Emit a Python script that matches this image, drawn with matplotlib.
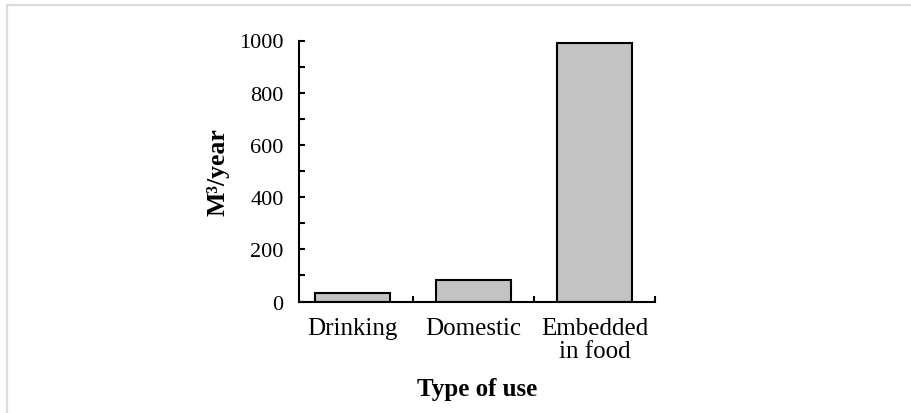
import matplotlib
matplotlib.use("Agg")
import matplotlib.pyplot as plt
from matplotlib.lines import Line2D

# data
categories = ["Drinking", "Domestic", "Embedded\nin food"]
values = [33, 81, 990]
y_major = [0, 200, 400, 600, 800, 1000]
y_minor = [100, 300, 500, 700, 900]

plt.rcParams['font.family'] = ['Liberation Serif', 'DejaVu Serif']

W, H = 912, 414
fig = plt.figure(figsize=(W / 100, H / 100), dpi=100)

# light grey frame of the figure (top and left edges only)
fig.add_artist(Line2D([7 / W, 7 / W, 1], [0, 1 - 6 / H, 1 - 6 / H],
                      transform=fig.transFigure, color='#dcdcdc', lw=1.6))

ax = fig.add_axes([299 / W, 1 - 302.5 / H, (655 - 299) / W, (302.5 - 41.5) / H])

x = list(range(len(categories)))
ax.bar(x, values, width=0.62, color='#c3c3c3', edgecolor='black', linewidth=1.5)

ax.set_xlim(-0.44, 2.5)
ax.set_ylim(0, 1000)

for s in ['top', 'right']:
    ax.spines[s].set_visible(False)
for s in ['left', 'bottom']:
    ax.spines[s].set_linewidth(1.5)

ax.set_yticks(y_major)
ax.set_yticks(y_minor, minor=True)
ax.tick_params(axis='y', which='both', direction='in', length=4, width=1.5,
               labelsize=16, pad=11)

# boundary ticks on x, labels sit between them
ax.set_xticks([0.5, 1.5, 2.5])
ax.set_xticklabels([])
ax.set_xticks(x, minor=True)
ax.set_xticklabels(categories, minor=True, linespacing=1.05)
ax.tick_params(axis='x', which='major', direction='in', length=4, width=1.5)
ax.tick_params(axis='x', which='minor', length=0, labelsize=18, pad=11)

ax.set_ylabel("M³/year", fontsize=18.5, fontweight='bold', labelpad=7)
ax.set_xlabel("Type of use", fontsize=18, fontweight='bold', labelpad=11)

fig.savefig("out.png", dpi=100)
